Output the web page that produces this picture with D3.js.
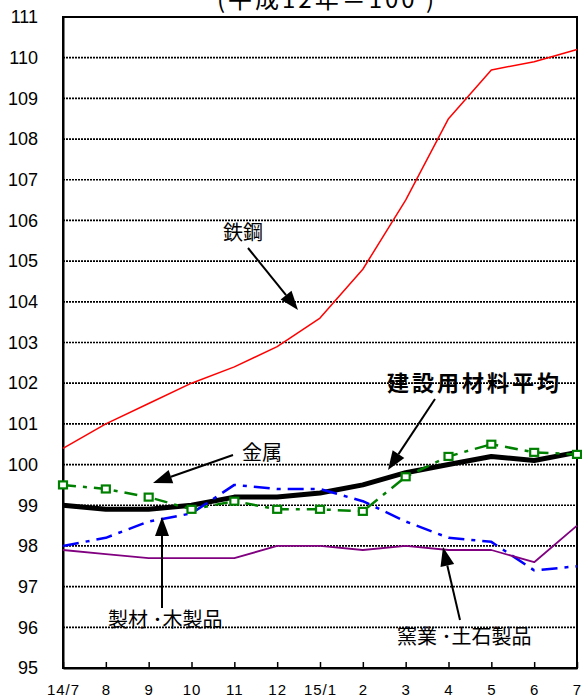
<!DOCTYPE html>
<html>
<head>
<meta charset="utf-8">
<script src="https://cdnjs.cloudflare.com/ajax/libs/d3/7.8.5/d3.min.js"></script>
<style>
  body { margin: 0; background: #fff; }
  svg { display: block; }
</style>
</head>
<body>
<div id="chart"></div>
<script>
// months on the x axis (平成14年7月 ～ 15年7月)
var months = ["14/7", "8", "9", "10", "11", "12", "15/1", "2", "3", "4", "5", "6", "7"];

// index values (平成12年 = 100)
var tekko   = [100.4, 101.0, 101.5, 102.0, 102.4, 102.9, 103.6, 104.8, 106.5, 108.5, 109.7, 109.9, 110.2];
var heikin  = [99.0, 98.9, 98.9, 99.0, 99.2, 99.2, 99.3, 99.5, 99.8, 100.0, 100.2, 100.1, 100.3];
var kinzoku = [99.5, 99.4, 99.2, 98.9, 99.1, 98.9, 98.9, 98.85, 99.7, 100.2, 100.5, 100.3, 100.25];
var seizai  = [98.0, 98.2, 98.6, 98.8, 99.5, 99.4, 99.4, 99.1, 98.6, 98.2, 98.1, 97.4, 97.5];
var yogyo   = [97.9, 97.8, 97.7, 97.7, 97.7, 98.0, 98.0, 97.9, 98.0, 97.9, 97.9, 97.6, 98.5];

var yTicks = [95, 96, 97, 98, 99, 100, 101, 102, 103, 104, 105, 106, 107, 108, 109, 110, 111];

var W = 582, H = 697;
var margin = {top: 17, right: 5, bottom: 29, left: 63};
var width = W - margin.left - margin.right,
    height = H - margin.top - margin.bottom;

var svg = d3.select("#chart").append("svg")
    .attr("width", W)
    .attr("height", H);

var g = svg.append("g")
    .attr("transform", "translate(" + margin.left + "," + margin.top + ")");

var x = d3.scalePoint().domain(months).range([0, width]).padding(0);
var y = d3.scaleLinear().domain([95, 111]).range([height, 0]);

var numFont = "'Liberation Sans', Arial, sans-serif";
var jpFont = "'Noto Sans CJK JP', 'Noto Sans', sans-serif";

// title (cut off at the top like the source)
svg.append("text")
    .attr("x", 327)
    .attr("y", 8)
    .attr("text-anchor", "middle")
    .style("font-family", jpFont)
    .style("font-size", "24px")
    .style("letter-spacing", "3px")
    .text("(平成12年＝100 )");

// dotted grid lines
g.append("g")
    .selectAll("line")
    .data(yTicks.filter(function (d) { return d > 95 && d < 111; }))
    .enter().append("line")
    .attr("x1", 0)
    .attr("x2", width)
    .attr("y1", function (d) { return y(d); })
    .attr("y2", function (d) { return y(d); })
    .attr("stroke", "#000")
    .attr("stroke-width", 1.7)
    .attr("stroke-dasharray", "2,1");

// frame
g.append("rect")
    .attr("width", width)
    .attr("height", height)
    .attr("fill", "none")
    .attr("stroke", "#000")
    .attr("stroke-width", 2);

// axes
var xAxis = g.append("g")
    .attr("transform", "translate(0," + height + ")")
    .call(d3.axisBottom(x).tickSizeInner(-6).tickSizeOuter(0).tickPadding(16));
xAxis.select(".domain").attr("stroke-width", 2);
xAxis.selectAll(".tick line").attr("stroke-width", 1.5);
xAxis.selectAll("text")
    .style("font-family", numFont)
    .style("font-size", "15px")
    .style("letter-spacing", "1px")
    .attr("fill", "#000");

var yAxis = g.append("g")
    .call(d3.axisLeft(y).tickValues(yTicks).tickSize(0).tickPadding(25).tickFormat(d3.format("d")));
yAxis.select(".domain").attr("stroke-width", 2);
yAxis.selectAll("text")
    .style("font-family", numFont)
    .style("font-size", "18px")
    .attr("fill", "#000");

// series lines
var line = d3.line()
    .x(function (d, i) { return x(months[i]); })
    .y(function (d) { return y(d); });

var series = [
    {name: "建設用材料平均", values: heikin, color: "#000", width: 5, dash: null},
    {name: "製材・木製品", values: seizai, color: "#0000ff", width: 2.5, dash: "16,7,4,7"},
    {name: "金属", values: kinzoku, color: "#008000", width: 2.5, dash: "13,7,4,7"},
    {name: "窯業・土石製品", values: yogyo, color: "#800080", width: 1.8, dash: null},
    {name: "鉄鋼", values: tekko, color: "#ff0000", width: 1.5, dash: null}
];

g.append("g")
    .selectAll("path")
    .data(series)
    .enter().append("path")
    .attr("d", function (d) { return line(d.values); })
    .attr("fill", "none")
    .attr("stroke", function (d) { return d.color; })
    .attr("stroke-width", function (d) { return d.width; })
    .attr("stroke-dasharray", function (d) { return d.dash; })
    .attr("stroke-linejoin", "round");

// square markers on 金属
g.append("g")
    .selectAll("rect")
    .data(kinzoku)
    .enter().append("rect")
    .attr("x", function (d, i) { return x(months[i]) - 4; })
    .attr("y", function (d) { return y(d) - 3.5; })
    .attr("width", 8)
    .attr("height", 7)
    .attr("fill", "#fff")
    .attr("stroke", "#008000")
    .attr("stroke-width", 2.2);

// annotations: label text and arrow (in page coordinates)
var notes = [
    {text: "鉄鋼", tx: 223, ty: 240, bold: false, x1: 248, y1: 248, x2: 298, y2: 310},
    {text: "建設用材料平均", tx: 387, ty: 391, bold: true, x1: 435, y1: 399, x2: 388, y2: 470},
    {text: "金属", tx: 242, ty: 460, bold: false, x1: 233, y1: 455, x2: 153, y2: 483},
    {text: "製材 ･木製品", tx: 108, ty: 627, bold: false, x1: 162, y1: 608, x2: 162, y2: 517},
    {text: "窯業 ･土石製品", tx: 397, ty: 644, bold: false, x1: 460, y1: 620, x2: 443, y2: 547}
];

var ann = svg.append("g");
notes.forEach(function (n) {
    ann.append("text")
        .attr("x", n.tx)
        .attr("y", n.ty)
        .style("font-family", jpFont)
        .style("font-size", n.bold ? "22px" : "20px")
        .style("font-weight", n.bold ? "bold" : "normal")
        .style("letter-spacing", n.bold ? "3px" : "0px")
        .text(n.text);

    var ang = Math.atan2(n.y2 - n.y1, n.x2 - n.x1);
    var hl = 19, hw = 7;
    var bx = n.x2 - hl * Math.cos(ang), by = n.y2 - hl * Math.sin(ang);
    ann.append("line")
        .attr("x1", n.x1).attr("y1", n.y1)
        .attr("x2", bx).attr("y2", by)
        .attr("stroke", "#000")
        .attr("stroke-width", 2);
    ann.append("path")
        .attr("d", "M" + n.x2 + "," + n.y2 +
            "L" + (bx + hw * Math.sin(ang)) + "," + (by - hw * Math.cos(ang)) +
            "L" + (bx - hw * Math.sin(ang)) + "," + (by + hw * Math.cos(ang)) + "Z")
        .attr("fill", "#000");
});
</script>
</body>
</html>
